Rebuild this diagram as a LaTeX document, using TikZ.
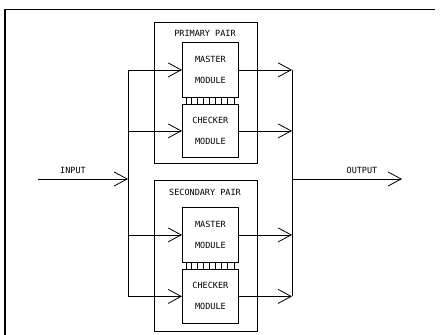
\documentclass[tikz,border=0pt]{standalone}
\usepackage{fontspec}
\newfontfamily\plotfont{DejaVu Sans Mono}
\usetikzlibrary{arrows.meta,positioning}

\begin{document}
\begin{tikzpicture}[
  x=1pt, y=-1pt,
  font=\plotfont\fontsize{8.5}{9}\selectfont,
  wire/.style={line width=0.8pt},
  arrow/.style={wire, -{Straight Barb[length=13pt, width=14pt, line width=0.8pt]}},
  pairbox/.style={rectangle, draw, line width=0.8pt, anchor=north west, minimum width=103pt},
  modbox/.style={rectangle, draw, line width=0.8pt, anchor=north west, minimum width=56pt, align=center, inner sep=0pt},
  linkbox/.style={rectangle, draw, line width=0.8pt, minimum width=48pt, minimum height=7pt, inner sep=0pt}
]
\useasboundingbox (0,0) rectangle (440,335);
\draw[line width=1.5pt] (435,9.5) -- (5,9.5) -- (5,335);

\node[pairbox, minimum height=141pt] (ppair) at (154,22) {};
\node (ptitle) at (205,33) {PRIMARY PAIR};
\node[modbox, minimum height=55pt] (pmaster) at (182,42) {MASTER\\[12pt]MODULE};
\node[modbox, minimum height=53pt] (pchecker) at (182,104) {CHECKER\\[12pt]MODULE};
\node[linkbox] (plink) at (210,100.5) {};

\node[pairbox, minimum height=151pt] (spair) at (154,180) {};
\node (stitle) at (205,192) {SECONDARY PAIR};
\node[modbox, minimum height=55pt] (smaster) at (182,207) {MASTER\\[12pt]MODULE};
\node[modbox, minimum height=54pt] (schecker) at (182,269) {CHECKER\\[12pt]MODULE};
\node[linkbox] (slink) at (210,265.5) {};

\foreach \l in {plink,slink}
  \foreach \x in {6,12,...,42}
    \draw[wire] ([xshift=\x pt]\l.south west) -- ([xshift=\x pt]\l.north west);

\coordinate (inbus) at (128,179);
\coordinate (outbus) at (292,179);
\coordinate (source) at (38,179);
\coordinate (sink) at (402,179);

\draw[wire] (inbus |- pmaster.west) -- (inbus |- schecker.west);
\draw[wire] (outbus |- pmaster.east) -- (outbus |- schecker.east);
\foreach \m in {pmaster,pchecker,smaster,schecker} {
  \draw[arrow] (inbus |- \m.west) -- (\m.west);
  \draw[arrow] (\m.east) -- (outbus |- \m.east);
}

\draw[arrow] (source) -- (inbus);
\draw[arrow] (outbus) -- (sink);
\node (inlabel) at (73,170) {INPUT};
\node (outlabel) at (362,170) {OUTPUT};
\end{tikzpicture}
\end{document}
